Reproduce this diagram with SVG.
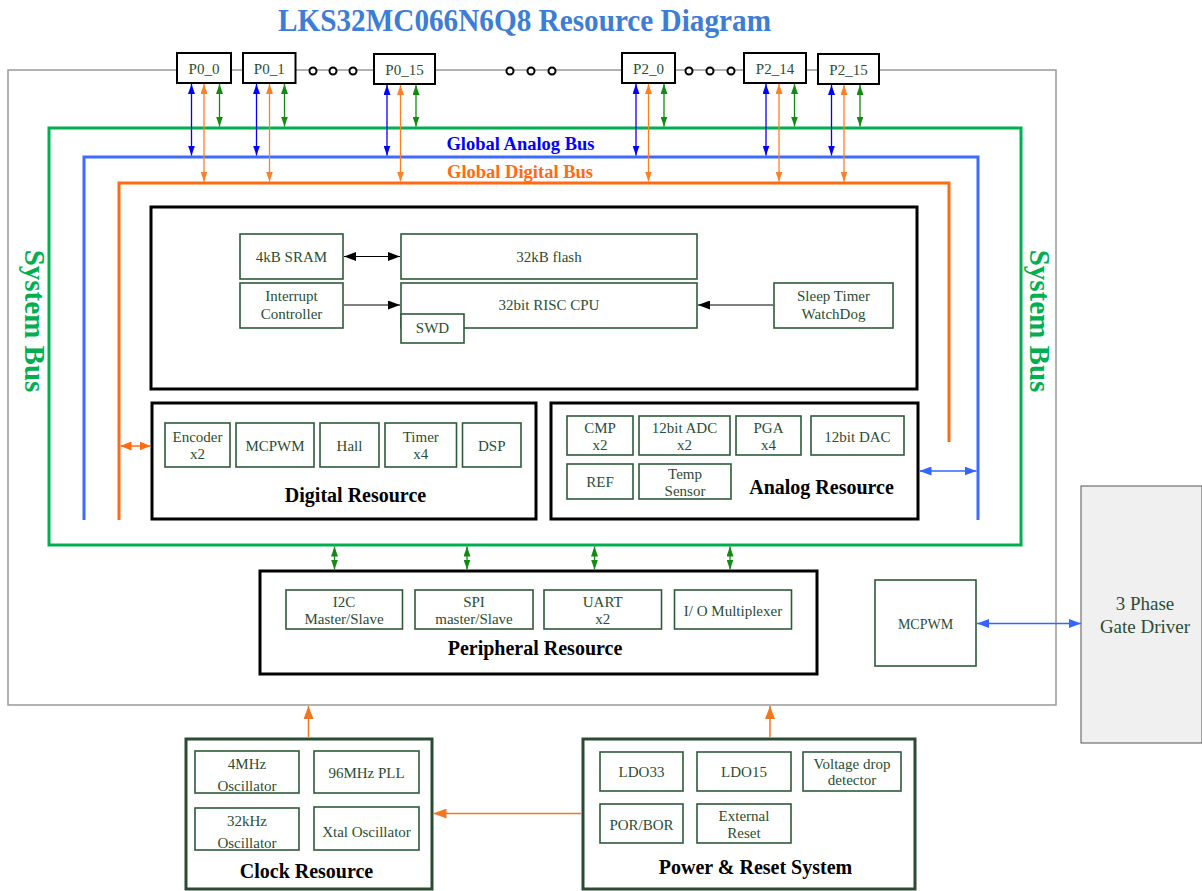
<svg xmlns="http://www.w3.org/2000/svg" width="1202" height="891" viewBox="0 0 1202 891">
<style>
text{font-family:"Liberation Serif","Times New Roman",serif;}
.t{font-size:15px;fill:#2b4d35;text-anchor:middle;}
.ts{font-size:14px;fill:#2b4d35;text-anchor:middle;}
.lbl{font-size:20px;font-weight:bold;fill:#000;text-anchor:middle;}
.pin{fill:#fff;stroke:#000;stroke-width:2;}
.ib{fill:#fff;stroke:#2d5a3a;stroke-width:1.6;}
.big{fill:#fff;stroke:#000;stroke-width:3;}
.gbig{fill:#fff;stroke:#2a4a32;stroke-width:3;}
.dot{fill:#fff;stroke:#000;stroke-width:2;}
.ab{stroke:#0000FF;stroke-width:1.3;fill:none;marker-start:url(#hb);marker-end:url(#hb);}
.ao{stroke:#FF7F27;stroke-width:1.3;fill:none;marker-start:url(#ho);marker-end:url(#ho);}
.ag{stroke:#138A13;stroke-width:1.3;fill:none;marker-start:url(#hg);marker-end:url(#hg);}
.bus{fill:none;stroke-width:3;}
.sysbus{font-size:29px;font-weight:bold;fill:#00B050;text-anchor:middle;}
</style>
<defs>
<marker id="hb" viewBox="0 0 10 7" refX="10" refY="3.5" markerWidth="10" markerHeight="7" markerUnits="userSpaceOnUse" orient="auto-start-reverse"><path d="M0,0 L10,3.5 L0,7 z" fill="#0000FF"/></marker>
<marker id="ho" viewBox="0 0 10 7" refX="10" refY="3.5" markerWidth="10" markerHeight="7" markerUnits="userSpaceOnUse" orient="auto-start-reverse"><path d="M0,0 L10,3.5 L0,7 z" fill="#FF7F27"/></marker>
<marker id="hg" viewBox="0 0 10 7" refX="10" refY="3.5" markerWidth="10" markerHeight="7" markerUnits="userSpaceOnUse" orient="auto-start-reverse"><path d="M0,0 L10,3.5 L0,7 z" fill="#138A13"/></marker>
<marker id="hk" viewBox="0 0 12 9" refX="12" refY="4.5" markerWidth="12" markerHeight="9" markerUnits="userSpaceOnUse" orient="auto-start-reverse"><path d="M0,0 L12,4.5 L0,9 z" fill="#000"/></marker>
<marker id="hO" viewBox="0 0 11 9" refX="11" refY="4.5" markerWidth="11" markerHeight="9" markerUnits="userSpaceOnUse" orient="auto-start-reverse"><path d="M0,0 L11,4.5 L0,9 z" fill="#FF6A13"/></marker>
<marker id="hB" viewBox="0 0 12 9" refX="12" refY="4.5" markerWidth="12" markerHeight="9" markerUnits="userSpaceOnUse" orient="auto-start-reverse"><path d="M0,0 L12,4.5 L0,9 z" fill="#3366FF"/></marker>
<marker id="hL" viewBox="0 0 13 10" refX="13" refY="5" markerWidth="13" markerHeight="10" markerUnits="userSpaceOnUse" orient="auto-start-reverse"><path d="M0,0 L13,5 L0,10 z" fill="#F07820"/></marker>
</defs>

<text x="524.5" y="31" font-size="31" font-weight="bold" fill="#3C7DD6" text-anchor="middle" textLength="493" lengthAdjust="spacingAndGlyphs">LKS32MC066N6Q8 Resource Diagram</text>

<rect id="chip" x="8" y="70" width="1048" height="635" fill="none" stroke="#999" stroke-width="1.5"/>

<g id="buses">
<rect x="49" y="128" width="972" height="417" class="bus" stroke="#00B050"/>
<path d="M84,520 V157 H978 V520" class="bus" stroke="#3D6BFF"/>
<path d="M119,520 V183 H949 V442" class="bus" stroke="#FF6A13"/>
<text x="520.5" y="149.5" font-size="18.5" font-weight="bold" fill="#0000FF" text-anchor="middle">Global Analog Bus</text>
<text x="520" y="177.5" font-size="18.5" font-weight="bold" fill="#FF6A13" text-anchor="middle">Global Digital Bus</text>
<text class="sysbus" transform="translate(25,321) rotate(90)">System Bus</text>
<text class="sysbus" transform="translate(1030,321) rotate(90)">System Bus</text>
</g>

<g id="pins">
<g id="P0_0"><rect x="177" y="53" width="54" height="30" class="pin"/><text x="204" y="74" class="t">P0_0</text></g>
<g id="P0_1"><rect x="243" y="53" width="52.5" height="30" class="pin"/><text x="269.25" y="74" class="t">P0_1</text></g>
<g id="P0_15"><rect x="374" y="54" width="61" height="30" class="pin"/><text x="404.5" y="75" class="t">P0_15</text></g>
<g id="P2_0"><rect x="622" y="53" width="53" height="30" class="pin"/><text x="648.5" y="74" class="t">P2_0</text></g>
<g id="P2_14"><rect x="744" y="53" width="62" height="30" class="pin"/><text x="775" y="74" class="t">P2_14</text></g>
<g id="P2_15"><rect x="818" y="54" width="61" height="30" class="pin"/><text x="848.5" y="75" class="t">P2_15</text></g>
<g id="dots">
<circle cx="313" cy="71" r="3.5" class="dot"/><circle cx="333" cy="71" r="3.5" class="dot"/><circle cx="353" cy="71" r="3.5" class="dot"/>
<circle cx="510" cy="71" r="3.5" class="dot"/><circle cx="531" cy="71" r="3.5" class="dot"/><circle cx="552" cy="71" r="3.5" class="dot"/>
<circle cx="689" cy="71" r="3.5" class="dot"/><circle cx="710" cy="71" r="3.5" class="dot"/><circle cx="731" cy="71" r="3.5" class="dot"/>
</g>
</g>

<g id="core">
<rect x="151" y="207" width="766" height="182" class="big"/>
<g id="sram"><rect x="240" y="234" width="103" height="45" class="ib"/><text x="291.5" y="262" class="t">4kB SRAM</text></g>
<g id="flash"><rect x="401" y="234" width="296" height="45" class="ib"/><text x="549" y="262" class="t">32kB flash</text></g>
<g id="intc"><rect x="240" y="283" width="103" height="45" class="ib"/><text x="291.5" y="301" class="t">Interrupt</text><text x="291.5" y="319" class="t">Controller</text></g>
<g id="cpu"><rect x="401" y="283" width="296" height="45" class="ib"/><text x="549" y="310" class="t">32bit RISC CPU</text></g>
<g id="swd"><rect x="401" y="314" width="63" height="29" class="ib"/><text x="432.5" y="333" class="t">SWD</text></g>
<g id="sleep"><rect x="774" y="283" width="119" height="45" class="ib"/><text x="833.5" y="301" class="t">Sleep Timer</text><text x="833.5" y="319" class="t">WatchDog</text></g>
</g>

<g id="digital">
<rect x="152" y="403" width="384" height="116" class="big"/>
<g id="encoder"><rect x="165" y="423" width="65" height="44" class="ib"/><text x="197.5" y="442" class="t">Encoder</text><text x="197.5" y="459" class="t">x2</text></g>
<g id="mcpwm-d"><rect x="236" y="423" width="78" height="44" class="ib"/><text x="275" y="451" class="t">MCPWM</text></g>
<g id="hall"><rect x="320" y="423" width="59" height="44" class="ib"/><text x="349.5" y="451" class="t">Hall</text></g>
<g id="timer"><rect x="385" y="423" width="71.5" height="44" class="ib"/><text x="420.75" y="442" class="t">Timer</text><text x="420.75" y="459" class="t">x4</text></g>
<g id="dsp"><rect x="462.5" y="423" width="58.5" height="44" class="ib"/><text x="491.75" y="451" class="t">DSP</text></g>
<text x="355.5" y="501.5" class="lbl">Digital Resource</text>
</g>

<g id="analog">
<rect x="551" y="403" width="367" height="116" class="big"/>
<g id="cmp"><rect x="567" y="416" width="66" height="39" class="ib"/><text x="600" y="432.5" class="t">CMP</text><text x="600" y="450" class="t">x2</text></g>
<g id="adc"><rect x="639" y="416" width="91" height="39" class="ib"/><text x="684.5" y="432.5" class="t">12bit ADC</text><text x="684.5" y="450" class="t">x2</text></g>
<g id="pga"><rect x="736" y="416" width="65" height="39" class="ib"/><text x="768.5" y="432.5" class="t">PGA</text><text x="768.5" y="450" class="t">x4</text></g>
<g id="dac"><rect x="811" y="416" width="93" height="39" class="ib"/><text x="857.5" y="441.5" class="t">12bit DAC</text></g>
<g id="ref"><rect x="567" y="464" width="66" height="35" class="ib"/><text x="600" y="487" class="t">REF</text></g>
<g id="temp"><rect x="639" y="464" width="92" height="35" class="ib"/><text x="685" y="479" class="t">Temp</text><text x="685" y="496" class="t">Sensor</text></g>
<text x="821.5" y="494" class="lbl">Analog Resource</text>
</g>

<g id="peripheral">
<rect x="260" y="571" width="557" height="103" class="big"/>
<g id="i2c"><rect x="286" y="590" width="116.5" height="39" class="ib"/><text x="344" y="607" class="t">I2C</text><text x="344" y="624" class="t">Master/Slave</text></g>
<g id="spi"><rect x="415" y="590" width="118" height="39" class="ib"/><text x="474" y="607" class="t">SPI</text><text x="474" y="624" class="t">master/Slave</text></g>
<g id="uart"><rect x="544" y="590" width="117.5" height="39" class="ib"/><text x="602.75" y="607" class="t">UART</text><text x="602.75" y="624" class="t">x2</text></g>
<g id="iomux"><rect x="674.5" y="590" width="117" height="39" class="ib"/><text x="733" y="616" class="t">I/ O Multiplexer</text></g>
<text x="535" y="655" class="lbl">Peripheral Resource</text>
</g>

<g id="mcpwm"><rect x="875" y="580" width="101" height="86" class="ib"/><text x="925.5" y="628.5" class="ts">MCPWM</text></g>

<g id="gatedriver"><rect x="1081" y="486" width="121" height="257" fill="#F0F0F0" stroke="#555" stroke-width="1"/><text x="1145" y="609.5" font-size="19" fill="#2b4d35" text-anchor="middle">3 Phase</text><text x="1145" y="632.5" font-size="19" fill="#2b4d35" text-anchor="middle">Gate Driver</text></g>

<g id="clock">
<rect x="186" y="739" width="246" height="150" class="gbig"/>
<g id="osc4m"><rect x="195" y="751" width="104" height="42" class="ib"/><text x="247" y="768.5" class="t">4MHz</text><text x="247" y="790.5" class="t">Oscillator</text></g>
<g id="pll"><rect x="314" y="751" width="105" height="42" class="ib"/><text x="366.5" y="778" class="t">96MHz PLL</text></g>
<g id="osc32k"><rect x="195" y="808" width="104" height="42" class="ib"/><text x="247" y="825.5" class="t">32kHz</text><text x="247" y="847.5" class="t">Oscillator</text></g>
<g id="xtal"><rect x="314" y="807" width="105" height="43" class="ib"/><text x="366.5" y="836.5" class="t">Xtal Oscillator</text></g>
<text x="306.5" y="877.5" class="lbl">Clock Resource</text>
</g>

<g id="power">
<rect x="583" y="739" width="332" height="150" class="gbig"/>
<g id="ldo33"><rect x="600" y="752" width="83" height="39" class="ib"/><text x="641.5" y="777" class="t">LDO33</text></g>
<g id="ldo15"><rect x="697" y="752" width="94" height="39" class="ib"/><text x="744" y="777" class="t">LDO15</text></g>
<g id="vdd"><rect x="803" y="752" width="98" height="39" class="ib"/><text x="852" y="768.5" class="t">Voltage drop</text><text x="852" y="785" class="t">detector</text></g>
<g id="por"><rect x="600" y="804" width="83" height="39" class="ib"/><text x="641.5" y="829.5" class="t">POR/BOR</text></g>
<g id="extrst"><rect x="697" y="804" width="94" height="39" class="ib"/><text x="744" y="820.5" class="t">External</text><text x="744" y="837.5" class="t">Reset</text></g>
<text x="755.5" y="874" class="lbl">Power &amp; Reset System</text>
</g>

<g id="connectors">
<line x1="191.5" y1="84" x2="191.5" y2="155.5" class="ab"/>
<line x1="204" y1="84" x2="204" y2="181.5" class="ao"/>
<line x1="219.5" y1="84" x2="219.5" y2="126.5" class="ag"/>
<line x1="256.5" y1="84" x2="256.5" y2="155.5" class="ab"/>
<line x1="269.5" y1="84" x2="269.5" y2="181.5" class="ao"/>
<line x1="284.5" y1="84" x2="284.5" y2="126.5" class="ag"/>
<line x1="387" y1="85" x2="387" y2="155.5" class="ab"/>
<line x1="400.5" y1="85" x2="400.5" y2="181.5" class="ao"/>
<line x1="416" y1="85" x2="416" y2="126.5" class="ag"/>
<line x1="636" y1="84" x2="636" y2="155.5" class="ab"/>
<line x1="648.5" y1="84" x2="648.5" y2="181.5" class="ao"/>
<line x1="664" y1="84" x2="664" y2="126.5" class="ag"/>
<line x1="766" y1="84" x2="766" y2="155.5" class="ab"/>
<line x1="779" y1="84" x2="779" y2="181.5" class="ao"/>
<line x1="794.5" y1="84" x2="794.5" y2="126.5" class="ag"/>
<line x1="831.5" y1="85" x2="831.5" y2="155.5" class="ab"/>
<line x1="844" y1="85" x2="844" y2="181.5" class="ao"/>
<line x1="860" y1="85" x2="860" y2="126.5" class="ag"/>

<line x1="344" y1="256.5" x2="400" y2="256.5" stroke="#000" stroke-width="1" marker-start="url(#hk)" marker-end="url(#hk)"/>
<line x1="344" y1="305" x2="400" y2="305" stroke="#000" stroke-width="1" marker-end="url(#hk)"/>
<line x1="773" y1="305" x2="698" y2="305" stroke="#000" stroke-width="1" marker-end="url(#hk)"/>

<line x1="120.5" y1="446" x2="150.5" y2="446" stroke="#FF6A13" stroke-width="1.5" marker-start="url(#hO)" marker-end="url(#hO)"/>
<line x1="919.5" y1="471" x2="976.5" y2="471" stroke="#3366FF" stroke-width="1.5" marker-start="url(#hB)" marker-end="url(#hB)"/>

<line x1="334.5" y1="546.5" x2="334.5" y2="569.5" class="ag"/>
<line x1="467" y1="546.5" x2="467" y2="569.5" class="ag"/>
<line x1="594.5" y1="546.5" x2="594.5" y2="569.5" class="ag"/>
<line x1="730" y1="546.5" x2="730" y2="569.5" class="ag"/>

<line x1="977" y1="623.5" x2="1081" y2="623.5" stroke="#3366FF" stroke-width="1.5" marker-start="url(#hB)" marker-end="url(#hB)"/>

<line x1="308.5" y1="737.5" x2="308.5" y2="706" stroke="#F07820" stroke-width="1.5" marker-end="url(#hL)"/>
<line x1="770" y1="737.5" x2="770" y2="706" stroke="#F07820" stroke-width="1.5" marker-end="url(#hL)"/>
<line x1="581.5" y1="813.5" x2="433.5" y2="813.5" stroke="#F07820" stroke-width="1.5" marker-end="url(#hL)"/>
</g>
</svg>
